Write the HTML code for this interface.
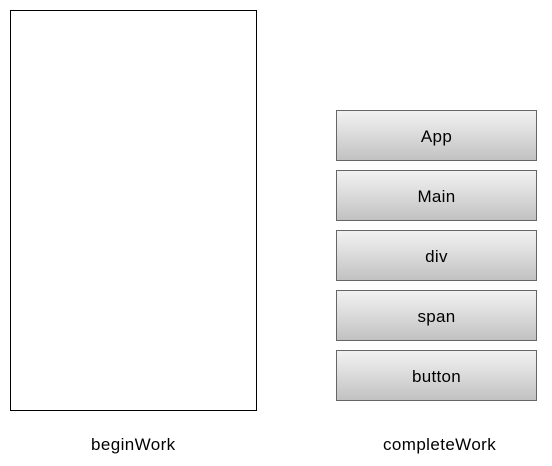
<!DOCTYPE html>
<html><head><style>
body{margin:0;width:552px;height:466px;background:#fff;position:relative;font-family:"Liberation Sans",Arial,sans-serif;}
.b{position:absolute;left:336px;width:199px;height:49px;border:1px solid #666;background:linear-gradient(#f2f2f2,#c2c2c2);display:flex;align-items:center;justify-content:center;font-size:17px;letter-spacing:0.3px;color:#000;box-sizing:content-box;padding-top:2px;height:47px;}
.l{position:absolute;font-size:17px;letter-spacing:0.4px;top:435px;line-height:20px;}
</style></head><body>
<div style="position:absolute;left:10px;top:10px;width:245px;height:399px;border:1px solid #000;"></div>
<div class="b" style="top:110px">App</div>
<div class="b" style="top:170px">Main</div>
<div class="b" style="top:230px">div</div>
<div class="b" style="top:290px">span</div>
<div class="b" style="top:350px">button</div>
<div class="l" style="left:91px">beginWork</div>
<div class="l" style="left:383px">completeWork</div>
</body></html>
